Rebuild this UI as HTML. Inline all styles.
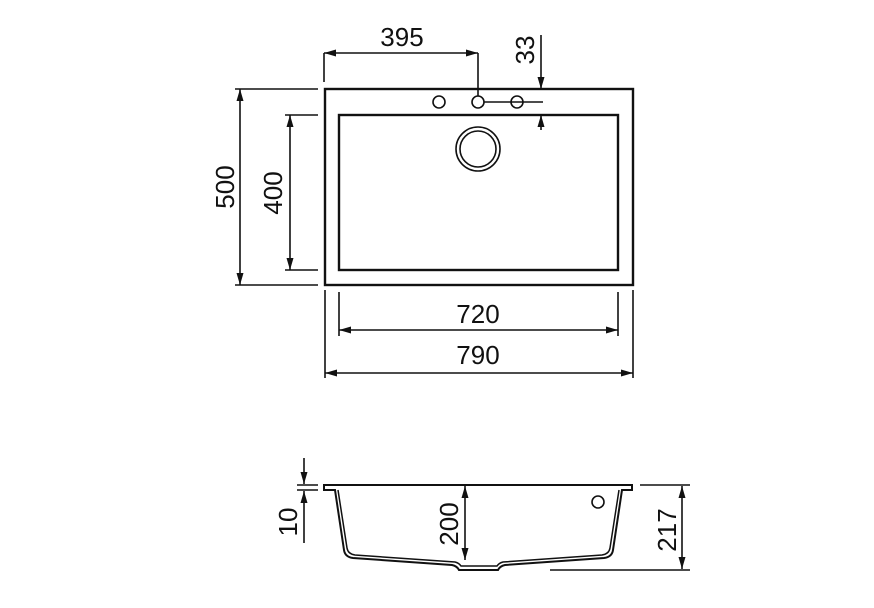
<!DOCTYPE html>
<html><head><style>body{margin:0;background:#fff}svg{display:block}text{font-family:"Liberation Sans",Arial,sans-serif;font-size:26px;fill:#111}</style></head><body>
<svg width="874" height="608" viewBox="0 0 874 608" xmlns="http://www.w3.org/2000/svg">
<defs><marker id="a" viewBox="0 0 12 7" refX="12" refY="3.5" markerWidth="12" markerHeight="7" orient="auto-start-reverse" markerUnits="userSpaceOnUse"><path d="M0,0L12,3.5L0,7z" fill="#111"/></marker></defs>
<g stroke="#111" fill="none" stroke-width="1.6">
<rect x="325" y="89" width="308" height="196" stroke-width="2.4"/>
<rect x="339" y="115" width="279" height="155" stroke-width="2.4"/>
<circle cx="439" cy="102" r="6"/><circle cx="478" cy="102" r="6"/><circle cx="517" cy="102" r="6"/>
<circle cx="478" cy="149" r="22"/><circle cx="478" cy="149" r="18"/>
<line x1="324" y1="53" x2="478" y2="53" marker-start="url(#a)" marker-end="url(#a)"/>
<line x1="324" y1="53" x2="324" y2="82"/><line x1="478" y1="53" x2="478" y2="96"/>
<line x1="541" y1="35" x2="541" y2="89" marker-end="url(#a)"/>
<line x1="541" y1="130" x2="541" y2="115" marker-end="url(#a)"/>
<line x1="484" y1="102" x2="543" y2="102"/>
<line x1="240" y1="89" x2="240" y2="285" marker-start="url(#a)" marker-end="url(#a)"/>
<line x1="235" y1="89" x2="318" y2="89"/><line x1="235" y1="285" x2="318" y2="285"/>
<line x1="290" y1="115" x2="290" y2="270" marker-start="url(#a)" marker-end="url(#a)"/>
<line x1="285" y1="115" x2="318" y2="115"/><line x1="285" y1="270" x2="318" y2="270"/>
<line x1="339" y1="330" x2="618" y2="330" marker-start="url(#a)" marker-end="url(#a)"/>
<line x1="339" y1="292" x2="339" y2="336"/><line x1="618" y1="292" x2="618" y2="336"/>
<line x1="325" y1="373" x2="633" y2="373" marker-start="url(#a)" marker-end="url(#a)"/>
<line x1="325" y1="290" x2="325" y2="378"/><line x1="633" y1="290" x2="633" y2="378"/>
<path d="M324,485H632V490H622L613,550Q612,557 604,558L505,565Q500,566 498,570H459Q457,566 452,565L353,558Q345,557 344,550L335,490H324Z" stroke-width="2"/>
<path d="M338,490L347,548Q348,554 355,555L455,562Q459,563 461,566H497Q499,563 503,562L602,555Q609,554 610,548L619,490" stroke-width="1.5"/>
<circle cx="598" cy="502" r="6"/>
<line x1="465" y1="486" x2="465" y2="560" marker-start="url(#a)" marker-end="url(#a)"/>
<line x1="682" y1="486" x2="682" y2="569" marker-start="url(#a)" marker-end="url(#a)"/>
<line x1="640" y1="485" x2="690" y2="485"/><line x1="550" y1="570" x2="690" y2="570"/>
<line x1="304" y1="458" x2="304" y2="484" marker-end="url(#a)"/>
<line x1="304" y1="543" x2="304" y2="491" marker-end="url(#a)"/>
<line x1="297" y1="485" x2="318" y2="485"/><line x1="297" y1="490" x2="318" y2="490"/>
</g>
<text x="402" y="46" text-anchor="middle">395</text>
<text x="478" y="323" text-anchor="middle">720</text>
<text x="478" y="364" text-anchor="middle">790</text>
<text transform="translate(534,50) rotate(-90)" text-anchor="middle">33</text>
<text transform="translate(234,187) rotate(-90)" text-anchor="middle">500</text>
<text transform="translate(282,193) rotate(-90)" text-anchor="middle">400</text>
<text transform="translate(458,524) rotate(-90)" text-anchor="middle">200</text>
<text transform="translate(676,530) rotate(-90)" text-anchor="middle">217</text>
<text transform="translate(297,522) rotate(-90)" text-anchor="middle">10</text>
</svg>
</body></html>
